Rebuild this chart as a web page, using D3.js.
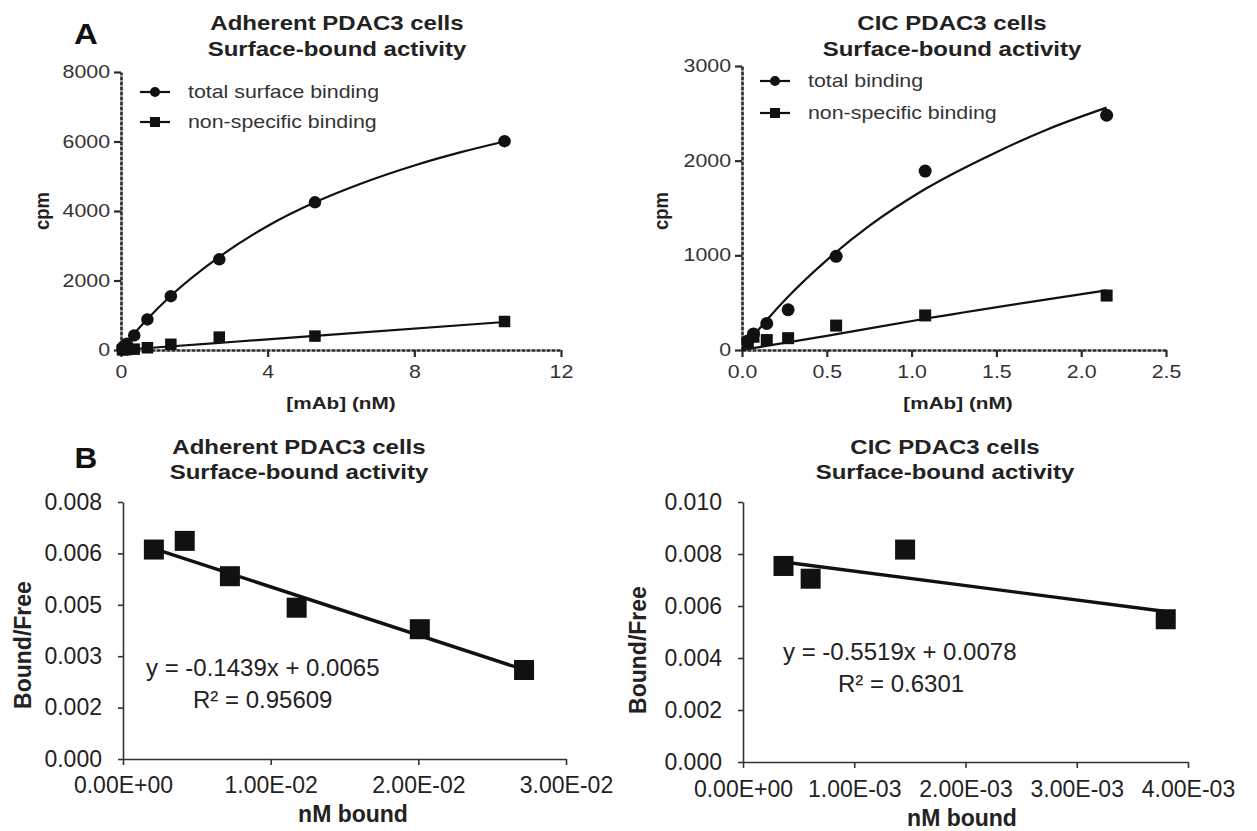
<!DOCTYPE html>
<html>
<head>
<meta charset="utf-8">
<script src="https://cdn.jsdelivr.net/npm/d3@7"></script>
<style>
  body { margin: 0; background: #fff; }
  svg { display: block; }
</style>
</head>
<body>
<svg id="fig" width="1257" height="831"></svg>
<script>
// ---- panel A, adherent PDAC3 (saturation binding) ----
const adhConc = [10.46, 5.29, 2.68, 1.36, 0.72, 0.36, 0.16, 0.08, 0.04];
const adhTotal = [6010, 4250, 2610, 1550, 880, 420, 180, 110, 60];
const adhNonspec = [820, 400, 370, 165, 65, 25, 15, 10, 5];
const adhTotalFitX = [0, 0.16, 0.36, 0.72, 1.36, 2.68, 4, 5.29, 6.5, 8, 9.3, 10.46];
const adhTotalFitY = [0, 215, 470, 890, 1560, 2680, 3570, 4250, 4770, 5310, 5700, 6000];
const adhNsFitX = [0, 2.68, 5.29, 10.46];
const adhNsFitY = [0, 205, 405, 805];
const adhXTicks = [0, 4, 8, 12];
const adhYTicks = [0, 2000, 4000, 6000, 8000];

// ---- panel A, CIC PDAC3 ----
const cicConc = [2.15, 1.08, 0.555, 0.272, 0.146, 0.068, 0.034];
const cicTotal = [2480, 1890, 990, 425, 280, 170, 95];
const cicNonspec = [575, 365, 258, 125, 105, 140, 80];
const cicTotalFitX = [0, 0.07, 0.15, 0.27, 0.5, 0.75, 1.08, 1.5, 1.8, 2.15];
const cicTotalFitY = [0, 155, 325, 560, 950, 1310, 1700, 2090, 2330, 2560];
const cicNsFitX = [0, 0.5, 1.08, 2.15];
const cicNsFitY = [0, 150, 330, 630];
const cicXTicks = [0, 0.5, 1, 1.5, 2, 2.5];
const cicYTicks = [0, 1000, 2000, 3000];

// ---- panel B, Scatchard ----
const adhBound = [0.00209, 0.00418, 0.00724, 0.01176, 0.0201, 0.02716];
const adhBF = [0.00652, 0.00679, 0.00569, 0.00471, 0.00404, 0.00277];
const adhTrendX = [0.00209, 0.02716];
const adhTrendY = [0.00655, 0.00278];
const adhBXTicks = [0, 0.01, 0.02, 0.03];
const adhBYTicks = [0, 0.0016, 0.0032, 0.0048, 0.0064, 0.008];

const cicBound = [0.000364, 0.000608, 0.001457, 0.0038];
const cicBF = [0.00754, 0.00705, 0.00817, 0.00549];
const cicTrendX = [0.000364, 0.0038];
const cicTrendY = [0.00769, 0.00579];
const cicBXTicks = [0, 0.001, 0.002, 0.003, 0.004];
const cicBYTicks = [0, 0.002, 0.004, 0.006, 0.008, 0.01];

const FONT = '"Liberation Sans", Arial, Helvetica, sans-serif';
const SX = 1.22; // the graphpad panels are stretched sideways

const svg = d3.select("#fig");

function label(x, y, s, o) {
  o = o || {};
  let tr = `translate(${x},${y}) scale(${o.sx || 1},1)`;
  if (o.rotate) tr += ` rotate(${o.rotate})`;
  return svg.append("text")
    .attr("transform", tr)
    .attr("dy", "0.35em")
    .attr("text-anchor", o.anchor || "middle")
    .attr("font-family", FONT)
    .attr("font-size", o.size || 16)
    .attr("font-weight", o.bold ? "bold" : "normal")
    .attr("fill", o.fill || "#222")
    .text(s);
}

function expFmt(v) {
  const parts = v.toExponential(2).split("e");
  const e = parseInt(parts[1], 10);
  return parts[0] + "E" + (e < 0 ? "-" : "+") + String(Math.abs(e)).padStart(2, "0");
}

function marker(g, shape, cx, cy, size) {
  if (shape == "circle") {
    g.append("circle").attr("cx", cx).attr("cy", cy).attr("r", size / 2).attr("fill", "#111");
  } else {
    g.append("rect").attr("x", cx - size / 2).attr("y", cy - size / 2)
      .attr("width", size).attr("height", size).attr("fill", "#111");
  }
}

// saturation plots (GraphPad look)
function satPanel(p) {
  const g = svg.append("g");
  const x = d3.scaleLinear().domain([p.xTicks[0], p.xTicks[p.xTicks.length - 1]]).range(p.xRange);
  const y = d3.scaleLinear().domain([p.yTicks[0], p.yTicks[p.yTicks.length - 1]]).range(p.yRange);

  const ax = g.append("g").attr("transform", `translate(0,${p.yRange[0]})`)
    .call(d3.axisBottom(x).tickValues(p.xTicks).tickSize(7).tickSizeOuter(0).tickPadding(9).tickFormat(p.xFmt));
  const ay = g.append("g").attr("transform", `translate(${p.xRange[0]},0)`)
    .call(d3.axisLeft(y).tickValues(p.yTicks).tickSize(7).tickSizeOuter(0).tickPadding(2).tickFormat(d3.format("d")));
  [ax, ay].forEach(a => {
    a.attr("font-family", FONT).attr("font-size", 17.5);
    a.select(".domain").attr("stroke", "#2a2a2a").attr("stroke-width", 2.6).attr("stroke-dasharray", "4,1");
    a.selectAll(".tick line").attr("stroke", "#2a2a2a").attr("stroke-width", 2.2);
    a.selectAll("text").attr("fill", "#333").attr("transform", `scale(${SX},1)`);
  });

  const line = d3.line().x(d => x(d[0])).y(d => y(d[1])).curve(d3.curveMonotoneX);
  g.append("path").datum(d3.zip(p.totFitX, p.totFitY)).attr("d", line)
    .attr("fill", "none").attr("stroke", "#111").attr("stroke-width", 2.2);
  g.append("path").datum(d3.zip(p.nsFitX, p.nsFitY)).attr("d", line)
    .attr("fill", "none").attr("stroke", "#111").attr("stroke-width", 2.2);

  p.conc.forEach((c, i) => marker(g, "square", x(c), y(p.ns[i]), p.msize));
  p.conc.forEach((c, i) => marker(g, "circle", x(c), y(p.tot[i]), p.msize + 1));

  // legend
  p.legend.forEach((l, i) => {
    const ly = p.legY[i];
    g.append("line").attr("x1", p.legX).attr("x2", p.legX + 30).attr("y1", ly).attr("y2", ly)
      .attr("stroke", "#111").attr("stroke-width", 2.2);
    marker(g, i == 0 ? "circle" : "square", p.legX + 15, ly, 10);
    label(p.legX + 48, ly, l, { anchor: "start", size: 17.5, sx: SX, fill: "#333" });
  });

  label(p.titleX, 23, p.title, { size: 20, bold: true, sx: 1.2 });
  label(p.titleX, 49, "Surface-bound activity", { size: 20, bold: true, sx: 1.2 });
  label(p.xLabX, 403, "[mAb] (nM)", { size: 17, bold: true, sx: SX });
  label(p.yLabX, 211, "cpm", { size: 18.5, bold: true, sx: 1.1, rotate: -90 });
}

// scatchard plots (Excel look)
function scatPanel(p) {
  const g = svg.append("g");
  const x = d3.scaleLinear().domain([p.xTicks[0], p.xTicks[p.xTicks.length - 1]]).range(p.xRange);
  const y = d3.scaleLinear().domain([p.yTicks[0], p.yTicks[p.yTicks.length - 1]]).range(p.yRange);

  const ax = g.append("g").attr("transform", `translate(0,${p.yRange[0]})`)
    .call(d3.axisBottom(x).tickValues(p.xTicks).tickSize(6).tickSizeOuter(0).tickPadding(p.xPad).tickFormat(expFmt));
  const ay = g.append("g").attr("transform", `translate(${p.xRange[0]},0)`)
    .call(d3.axisLeft(y).tickValues(p.yTicks).tickSize(5).tickSizeOuter(0).tickPadding(16).tickFormat(v => v.toFixed(3)));
  [ax, ay].forEach(a => {
    a.attr("font-family", FONT).attr("font-size", 23);
    a.select(".domain").attr("stroke", "#333").attr("stroke-width", 1.6);
    a.selectAll(".tick line").attr("stroke", "#333").attr("stroke-width", 1.6);
    a.selectAll("text").attr("fill", "#222");
  });

  g.append("line")
    .attr("x1", x(p.trendX[0])).attr("y1", y(p.trendY[0]))
    .attr("x2", x(p.trendX[1])).attr("y2", y(p.trendY[1]))
    .attr("stroke", "#111").attr("stroke-width", 3.4);
  p.bound.forEach((b, i) => marker(g, "square", x(b), y(p.bf[i]), 20));

  label(p.eqX, p.eqY, p.eq, { anchor: "start", size: 24 });
  label(p.r2X, p.eqY + 32, p.r2, { anchor: "start", size: 24 });

  label(p.titleX, 447, p.title, { size: 20, bold: true, sx: 1.2 });
  label(p.titleX, 472, "Surface-bound activity", { size: 20, bold: true, sx: 1.2 });
  label(p.xLabX, p.xLabY, "nM bound", { size: 23, bold: true });
  label(p.yLabX, p.yLabY, "Bound/Free", { size: 23, bold: true, rotate: -90 });
}

satPanel({
  conc: adhConc, tot: adhTotal, ns: adhNonspec,
  totFitX: adhTotalFitX, totFitY: adhTotalFitY, nsFitX: adhNsFitX, nsFitY: adhNsFitY,
  xTicks: adhXTicks, yTicks: adhYTicks, xFmt: d3.format("d"),
  xRange: [121, 561], yRange: [350, 72], msize: 11.5,
  legend: ["total surface binding", "non-specific binding"], legX: 140, legY: [92, 122],
  title: "Adherent PDAC3 cells", titleX: 337, xLabX: 341, yLabX: 42
});

satPanel({
  conc: cicConc, tot: cicTotal, ns: cicNonspec,
  totFitX: cicTotalFitX, totFitY: cicTotalFitY, nsFitX: cicNsFitX, nsFitY: cicNsFitY,
  xTicks: cicXTicks, yTicks: cicYTicks, xFmt: d3.format(".1f"),
  xRange: [742, 1166], yRange: [350, 66], msize: 12,
  legend: ["total binding", "non-specific binding"], legX: 760, legY: [81, 113],
  title: "CIC PDAC3 cells", titleX: 952, xLabX: 958, yLabX: 661
});

scatPanel({
  bound: adhBound, bf: adhBF, trendX: adhTrendX, trendY: adhTrendY,
  xTicks: adhBXTicks, yTicks: adhBYTicks,
  xRange: [123, 566], yRange: [759, 502], xPad: 12,
  eq: "y = -0.1439x + 0.0065", r2: "R\u00b2 = 0.95609", eqX: 146, eqY: 668, r2X: 193,
  title: "Adherent PDAC3 cells", titleX: 299,
  xLabX: 353, xLabY: 814, yLabX: 23, yLabY: 645
});

scatPanel({
  bound: cicBound, bf: cicBF, trendX: cicTrendX, trendY: cicTrendY,
  xTicks: cicBXTicks, yTicks: cicBYTicks,
  xRange: [743, 1188], yRange: [762, 502], xPad: 13,
  eq: "y = -0.5519x + 0.0078", r2: "R\u00b2 = 0.6301", eqX: 783, eqY: 652, r2X: 838,
  title: "CIC PDAC3 cells", titleX: 945,
  xLabX: 962, xLabY: 818, yLabX: 638, yLabY: 650
});

// panel letters
label(86, 33, "A", { size: 30, bold: true, sx: 1.1, fill: "#111" });
label(86, 457, "B", { size: 30, bold: true, sx: 1.05, fill: "#111" });
</script>
</body>
</html>
